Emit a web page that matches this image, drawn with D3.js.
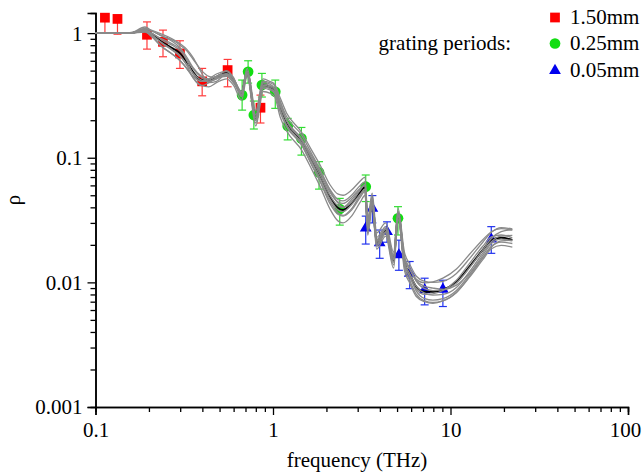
<!DOCTYPE html>
<html><head><meta charset="utf-8">
<script src="https://cdn.jsdelivr.net/npm/d3@7"></script>
<style>
body{margin:0;background:#fff}
</style>
</head><body>
<svg id="chart" width="642" height="475"></svg>
<script>
// ---------- data ----------
const xTickValues = [0.1, 1, 10, 100];
const xTickLabels = ["0.1", "1", "10", "100"];
const yTickValues = [0.001, 0.01, 0.1, 1];
const yTickLabels = ["0.001", "0.01", "0.1", "1"];
const seriesNames = ["1.50mm", "0.25mm", "0.05mm"];
const legendTitle = "grating periods:";
const xTitle = "frequency (THz)";
const yTitle = "ρ";

const redFreq = [0.113, 0.133, 0.195, 0.24, 0.299, 0.399, 0.555, 0.85];
const redRho  = [1.33, 1.30, 0.97, 0.851, 0.687, 0.41, 0.505, 0.252];
const redLo   = [1.0, 0.98, 0.744, 0.646, 0.521, 0.314, 0.371, 0.19];
const redHi   = [1.33, 1.30, 1.23, 1.057, 0.868, 0.521, 0.615, 0.318];

const greenFreq = [0.67, 0.724, 0.78, 0.866, 1.03, 1.21, 1.446, 1.817, 2.377, 3.33, 5.06];
const greenRho  = [0.318, 0.489, 0.22, 0.383, 0.338, 0.18, 0.143, 0.0764, 0.0388, 0.0586, 0.0327];
const greenLo   = [0.241, 0.397, 0.17, 0.307, 0.249, 0.139, 0.105, 0.056, 0.0288, 0.0445, 0.024];
const greenHi   = [0.42, 0.6, 0.285, 0.475, 0.42, 0.207, 0.175, 0.093, 0.0472, 0.0727, 0.0405];

const blueFreq = [3.33, 3.63, 3.99, 4.39, 5.12, 5.89, 7.15, 9.06, 16.97];
const blueRho  = [0.0272, 0.0393, 0.0208, 0.0255, 0.0166, 0.0118, 0.0087, 0.0088, 0.0222];
const blueLo   = [0.0203, 0.03, 0.0156, 0.021, 0.0125, 0.0089, 0.0066, 0.0064, 0.0171];
const blueHi   = [0.034, 0.0497, 0.0263, 0.0306, 0.0218, 0.0147, 0.0108, 0.0104, 0.028];

const fitFreq = [0.1, 0.156, 0.19, 0.208, 0.236, 0.27, 0.3, 0.327, 0.354, 0.396,
  0.435, 0.48, 0.547, 0.6, 0.665, 0.715, 0.8, 0.88, 0.96, 1.02,
  1.1, 1.19, 1.45, 1.65, 1.83, 2.09, 2.33, 2.48, 2.77, 3.1,
  3.3, 3.42, 3.62, 3.84, 4.31, 4.78, 5.07, 5.5, 5.89, 6.42,
  7.15, 7.96, 9.06, 10.8, 12.8, 15.2, 17.0, 19.3, 22.3];

const fitMean = [1.0, 1.0, 1.057, 0.98, 0.852, 0.758, 0.688, 0.586, 0.489, 0.42,
  0.42, 0.446, 0.48, 0.42, 0.33, 0.489, 0.208, 0.383, 0.369, 0.349,
  0.25, 0.193, 0.136, 0.096, 0.0727, 0.0487, 0.0393, 0.0381, 0.0431, 0.053,
  0.058, 0.028, 0.045, 0.021, 0.026, 0.015, 0.036, 0.0146, 0.0117, 0.0092,
  0.0084, 0.0084, 0.0087, 0.0101, 0.0134, 0.0182, 0.0219, 0.0228, 0.0219];

const fitGrey1 = [1.0, 1.0, 1.12, 1.04, 0.95, 0.88, 0.8, 0.72, 0.62, 0.5,
  0.45, 0.44, 0.45, 0.4, 0.34, 0.52, 0.24, 0.43, 0.41, 0.39,
  0.3, 0.23, 0.16, 0.115, 0.089, 0.061, 0.051, 0.05, 0.055, 0.065,
  0.07, 0.033, 0.052, 0.025, 0.03, 0.0175, 0.039, 0.0175, 0.014, 0.0112,
  0.0102, 0.01, 0.0102, 0.0118, 0.0155, 0.021, 0.0252, 0.0275, 0.0268];
const fitGrey2 = [1.0, 1.0, 1.02, 0.94, 0.78, 0.68, 0.6, 0.52, 0.44, 0.38,
  0.37, 0.4, 0.43, 0.38, 0.29, 0.45, 0.18, 0.34, 0.33, 0.31,
  0.21, 0.165, 0.115, 0.081, 0.06, 0.039, 0.031, 0.030, 0.034, 0.044,
  0.05, 0.024, 0.04, 0.0185, 0.0235, 0.013, 0.032, 0.0125, 0.0099, 0.0077,
  0.007, 0.0068, 0.0071, 0.0083, 0.011, 0.0152, 0.0186, 0.0198, 0.0192];
const fitGrey3 = [1.0, 1.0, 1.08, 1.05, 0.98, 0.9, 0.82, 0.74, 0.64, 0.48,
  0.40, 0.41, 0.47, 0.43, 0.31, 0.47, 0.2, 0.4, 0.39, 0.36,
  0.28, 0.2, 0.14, 0.104, 0.08, 0.055, 0.043, 0.04, 0.044, 0.055,
  0.061, 0.03, 0.047, 0.022, 0.027, 0.0155, 0.037, 0.0155, 0.0128, 0.0103,
  0.0093, 0.009, 0.0088, 0.0095, 0.0118, 0.0158, 0.0192, 0.0215, 0.0218];
const fitGrey4 = [1.0, 1.0, 1.05, 0.96, 0.84, 0.74, 0.66, 0.55, 0.44, 0.38,
  0.4, 0.44, 0.5, 0.44, 0.32, 0.5, 0.2, 0.37, 0.36, 0.33,
  0.24, 0.18, 0.128, 0.088, 0.066, 0.045, 0.036, 0.0345, 0.039, 0.05,
  0.056, 0.026, 0.043, 0.0195, 0.0245, 0.0138, 0.034, 0.0134, 0.0104, 0.008,
  0.0071, 0.0069, 0.0071, 0.0083, 0.0112, 0.0158, 0.0195, 0.021, 0.0205];
const fitGrey5 = [1.0, 1.0, 1.07, 1.0, 0.88, 0.8, 0.72, 0.62, 0.52, 0.44,
  0.41, 0.43, 0.46, 0.41, 0.33, 0.48, 0.21, 0.39, 0.38, 0.36,
  0.26, 0.2, 0.142, 0.1, 0.078, 0.053, 0.044, 0.043, 0.048, 0.057,
  0.06, 0.029, 0.046, 0.021, 0.027, 0.0158, 0.036, 0.0155, 0.0128, 0.0106,
  0.0099, 0.0101, 0.0108, 0.0128, 0.0168, 0.022, 0.0255, 0.027, 0.0262];
const fitGrey6 = [1.0, 1.0, 1.04, 0.99, 0.9, 0.82, 0.74, 0.6, 0.47, 0.41,
  0.43, 0.47, 0.49, 0.43, 0.34, 0.49, 0.21, 0.38, 0.37, 0.35,
  0.26, 0.2, 0.138, 0.098, 0.074, 0.05, 0.041, 0.04, 0.046, 0.056,
  0.06, 0.03, 0.047, 0.0215, 0.0265, 0.0152, 0.035, 0.0148, 0.0118, 0.0093,
  0.0082, 0.0079, 0.008, 0.0091, 0.0122, 0.0172, 0.0212, 0.0235, 0.0238];
const fitGrey7 = [1.0, 1.0, 1.03, 0.93, 0.78, 0.68, 0.6, 0.52, 0.45, 0.41,
  0.42, 0.45, 0.47, 0.41, 0.31, 0.47, 0.19, 0.36, 0.35, 0.33,
  0.23, 0.18, 0.126, 0.088, 0.066, 0.043, 0.035, 0.034, 0.038, 0.048,
  0.054, 0.027, 0.043, 0.0198, 0.0252, 0.0145, 0.034, 0.014, 0.0112, 0.0088,
  0.008, 0.0081, 0.0086, 0.0104, 0.0142, 0.0195, 0.0232, 0.024, 0.0228];
const fitGrey8 = [1.0, 1.0, 1.09, 1.04, 0.95, 0.86, 0.76, 0.64, 0.53, 0.45,
  0.43, 0.45, 0.47, 0.41, 0.33, 0.49, 0.22, 0.41, 0.4, 0.38,
  0.28, 0.215, 0.152, 0.108, 0.082, 0.056, 0.046, 0.045, 0.05, 0.06,
  0.064, 0.031, 0.049, 0.023, 0.028, 0.0165, 0.037, 0.0162, 0.0131, 0.0102,
  0.0089, 0.0086, 0.0087, 0.0099, 0.0131, 0.0182, 0.0225, 0.0255, 0.0265];
const fitGrey9 = [1.0, 1.0, 1.06, 0.97, 0.83, 0.73, 0.65, 0.56, 0.48, 0.42,
  0.41, 0.43, 0.46, 0.4, 0.32, 0.47, 0.2, 0.37, 0.36, 0.34,
  0.24, 0.185, 0.132, 0.093, 0.07, 0.047, 0.038, 0.037, 0.042, 0.051,
  0.056, 0.027, 0.044, 0.0205, 0.0255, 0.0146, 0.035, 0.0142, 0.0112, 0.0085,
  0.0074, 0.0072, 0.0074, 0.0086, 0.0116, 0.0165, 0.0205, 0.0222, 0.0215];

// ---------- font selection (pick an installed serif face) ----------
function pickSerif() {
  const cands = ["Liberation Serif", "Tinos", "Times New Roman", "Nimbus Roman", "Nimbus Roman No9 L",
    "FreeSerif", "DejaVu Serif", "Noto Serif", "Times"];
  const ctx = document.createElement("canvas").getContext("2d");
  const sample = "frequency (THz) 0.001 grating periods: mmWw";
  const base = {};
  ["monospace", "sans-serif"].forEach(b => { ctx.font = "40px " + b; base[b] = ctx.measureText(sample).width; });
  for (const c of cands) {
    let ok = true;
    for (const b of ["monospace", "sans-serif"]) {
      ctx.font = `40px "${c}", ${b}`;
      if (Math.abs(ctx.measureText(sample).width - base[b]) < 0.5) ok = false;
    }
    if (ok) return `"${c}", serif`;
  }
  return "serif";
}
const FAMILY = pickSerif();

// ---------- drawing ----------
const svg = d3.select("#chart");
const x = d3.scaleLog().domain([0.1, 100]).range([95.5, 628]);
const y = d3.scaleLog().domain([0.001, 1.45]).range([407, 13]);
const FONT = 21;

const xMinor = [], yMinor = [];
[0.1, 1, 10].forEach(d => { for (let k = 2; k <= 9; k++) xMinor.push(d * k); });
[0.001, 0.01, 0.1, 1].forEach(d => { for (let k = 2; k <= 9; k++) if (d * k <= 1.45) yMinor.push(d * k); });

// X axis
const gx = svg.append("g").attr("transform", "translate(0,407)");
gx.call(d3.axisBottom(x).tickValues(xMinor).tickSize(5).tickFormat(""));
gx.append("g").call(d3.axisBottom(x).tickValues(xTickValues).tickSize(8)
  .tickFormat((d, i) => xTickLabels[i]));
gx.selectAll("path.domain").attr("stroke", "#000").attr("stroke-width", 1.5);
gx.selectAll(".tick line").attr("stroke", "#000").attr("stroke-width", 1.3);
gx.selectAll(".tick text").attr("font-size", FONT).attr("font-family", FAMILY).style("font-family", FAMILY)
  .attr("y", 30).attr("dy", 0).attr("fill", "#000")
  .attr("dx", d => d === 100 ? -3 : 0);

// Y axis
const gy = svg.append("g").attr("transform", "translate(95.5,0)");
gy.call(d3.axisLeft(y).tickValues(yMinor).tickSize(5).tickFormat(""));
gy.append("g").call(d3.axisLeft(y).tickValues(yTickValues).tickSize(8)
  .tickFormat((d, i) => yTickLabels[i]));
gy.selectAll("path.domain").attr("stroke", "#000").attr("stroke-width", 1.5);
gy.selectAll(".tick line").attr("stroke", "#000").attr("stroke-width", 1.3);
gy.selectAll(".tick text").attr("font-size", FONT).attr("font-family", FAMILY).style("font-family", FAMILY)
  .attr("x", -13).attr("dy", "0.33em").attr("fill", "#000");

// Axis titles
svg.append("text").attr("x", 357).attr("y", 467).attr("text-anchor", "middle")
  .attr("font-size", FONT).style("font-family", FAMILY).text(xTitle);
svg.append("text").attr("transform", "translate(20,200) rotate(-90)")
  .attr("text-anchor", "middle").attr("font-size", FONT).style("font-family", FAMILY).text(yTitle);

// Series
const series = [
  {f: redFreq, r: redRho, lo: redLo, hi: redHi, fill: "#ff0000", bar: "#ff3b3b", sym: d3.symbolSquare, size: 95},
  {f: greenFreq, r: greenRho, lo: greenLo, hi: greenHi, fill: "#11dd11", bar: "#33dd33", sym: d3.symbolCircle, size: 90},
  {f: blueFreq, r: blueRho, lo: blueLo, hi: blueHi, fill: "#0000ee", bar: "#2233ee", sym: d3.symbolTriangle, size: 60}
];
const cap = 4;
series.forEach(s => {
  const g = svg.append("g");
  s.f.forEach((f, i) => {
    const cx = x(f);
    g.append("line").attr("x1", cx).attr("x2", cx).attr("y1", y(s.lo[i])).attr("y2", y(s.hi[i]))
      .attr("stroke", s.bar).attr("stroke-width", 1.2);
    g.append("line").attr("x1", cx - cap).attr("x2", cx + cap).attr("y1", y(s.lo[i])).attr("y2", y(s.lo[i]))
      .attr("stroke", s.bar).attr("stroke-width", 1.2);
    if (s.hi[i] > s.r[i] * 1.001)
      g.append("line").attr("x1", cx - cap).attr("x2", cx + cap).attr("y1", y(s.hi[i])).attr("y2", y(s.hi[i]))
        .attr("stroke", s.bar).attr("stroke-width", 1.2);
  });
  g.selectAll("path.pt").data(s.f).join("path").attr("class", "pt")
    .attr("d", d3.symbol().type(s.sym).size(s.size))
    .attr("transform", (f, i) => `translate(${x(f)},${y(s.r[i])})`)
    .attr("fill", s.fill);
});

// Fit lines
const line = d3.line().x(d => x(d[0])).y(d => y(d[1])).curve(d3.curveMonotoneX);
const toPts = vals => fitFreq.map((f, i) => [f, vals[i]]);
svg.append("path").attr("d", line(toPts(fitMean))).attr("fill", "none")
  .attr("stroke", "#000").attr("stroke-width", 2);
[fitGrey1, fitGrey2, fitGrey3, fitGrey4, fitGrey5, fitGrey6, fitGrey7, fitGrey8, fitGrey9].forEach(v => {
  svg.append("path").attr("d", line(toPts(v))).attr("fill", "none")
    .attr("stroke", "#8a8a8a").attr("stroke-width", 1.3);
});

// Legend
const lg = svg.append("g");
const legY = [17.5, 43.5, 70.5];
lg.append("text").attr("x", 511).attr("y", 50).attr("text-anchor", "end")
  .attr("font-size", FONT).style("font-family", FAMILY).text(legendTitle);
series.forEach((s, i) => {
  lg.append("path").attr("d", d3.symbol().type(s.sym).size(s.size)())
    .attr("transform", `translate(555,${legY[i]})`).attr("fill", s.fill);
  lg.append("text").attr("x", 570).attr("y", legY[i] + 6.5).attr("font-size", FONT)
    .style("font-family", FAMILY).text(seriesNames[i]);
});
</script>
</body></html>
